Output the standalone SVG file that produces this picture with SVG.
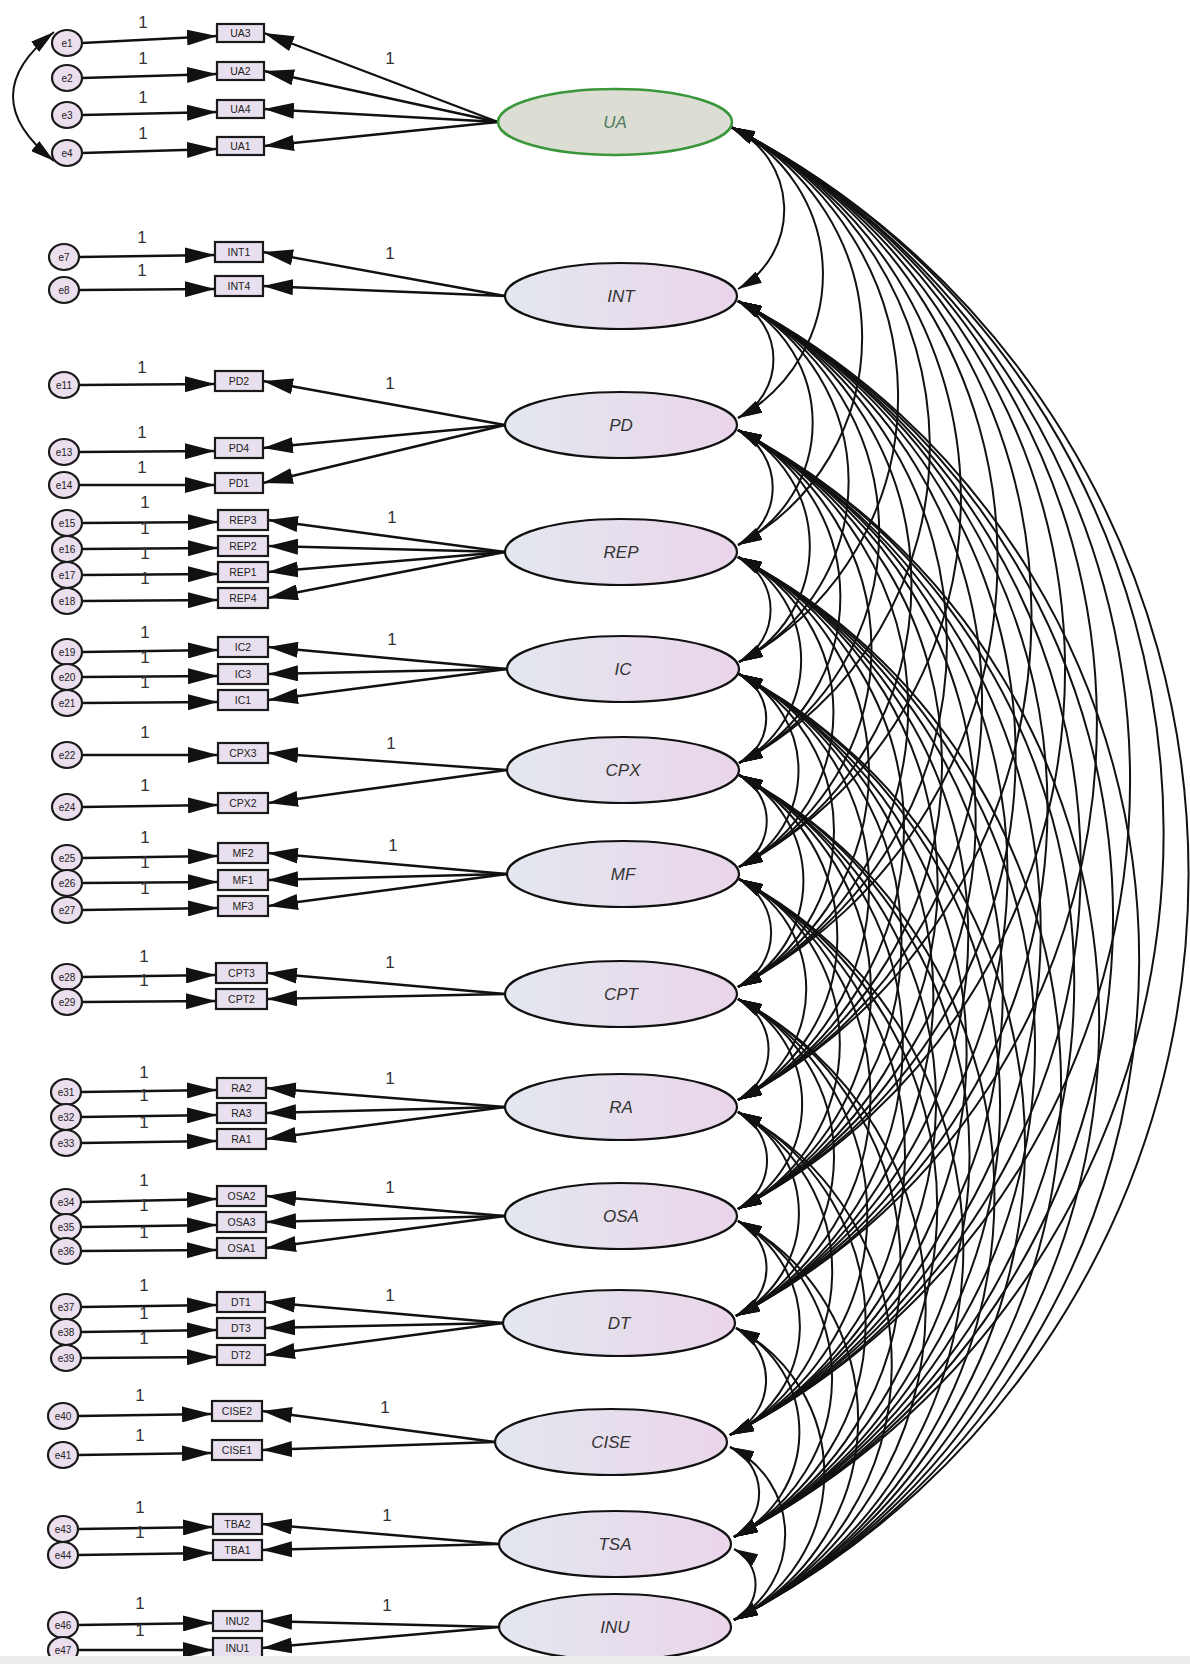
<svg xmlns="http://www.w3.org/2000/svg" width="1190" height="1664" viewBox="0 0 1190 1664">
<defs>
<linearGradient id="lg" x1="0" y1="0" x2="1" y2="0"><stop offset="0" stop-color="#e3e7ef"/><stop offset="1" stop-color="#ead5ea"/></linearGradient>
<marker id="ah" markerUnits="userSpaceOnUse" markerWidth="30" markerHeight="16" viewBox="0 0 30 16" refX="30" refY="8" orient="auto"><path d="M0,0 L30,8 L0,16 z" fill="#111"/></marker>
<marker id="ch" markerUnits="userSpaceOnUse" markerWidth="24" markerHeight="13" viewBox="0 0 24 13" refX="24" refY="6.5" orient="auto-start-reverse"><path d="M0,0 L24,6.5 L0,13 z" fill="#111"/></marker>
<style>
.lat{stroke:#111;stroke-width:2.2;fill:url(#lg)}
.box{fill:#e9e0ef;stroke:#1a1a1a;stroke-width:2.2}
.err{fill:#ebdfee;stroke:#1a1a1a;stroke-width:2.2}
.t{font-family:"Liberation Sans",Arial,sans-serif;text-anchor:middle;dominant-baseline:central}
.lt{font-size:17px;font-style:italic;fill:#333}
.bt{font-size:10.5px;fill:#222}
.et{font-size:10px;fill:#222}
.one{font-size:17px;fill:#333}
.ln{stroke:#111;stroke-width:2.4;fill:none;marker-end:url(#ah)}
.cv{stroke:#111;stroke-width:2;fill:none;marker-start:url(#ch);marker-end:url(#ch)}
</style>
</defs>
<rect width="1190" height="1664" fill="#ffffff"/>

<g id="connectors">
<path class="ln" d="M82,43 L217,36"/>
<path class="ln" d="M82,78 L217,74"/>
<path class="ln" d="M82,115 L217,112"/>
<path class="ln" d="M82,153 L217,149"/>
<path class="ln" d="M79,257 L215,255"/>
<path class="ln" d="M79,290 L215,289"/>
<path class="ln" d="M79,385 L215,384"/>
<path class="ln" d="M79,452 L215,451"/>
<path class="ln" d="M79,485 L215,485"/>
<path class="ln" d="M82,523 L218,522"/>
<path class="ln" d="M82,549 L218,548"/>
<path class="ln" d="M82,575 L218,574"/>
<path class="ln" d="M82,601 L218,600"/>
<path class="ln" d="M82,652 L218,650"/>
<path class="ln" d="M82,677 L218,676"/>
<path class="ln" d="M82,703 L218,702"/>
<path class="ln" d="M82,755 L218,755"/>
<path class="ln" d="M82,807 L218,805"/>
<path class="ln" d="M82,858 L218,856"/>
<path class="ln" d="M82,883 L218,882"/>
<path class="ln" d="M82,910 L218,908"/>
<path class="ln" d="M82,977 L216,975"/>
<path class="ln" d="M82,1002 L216,1001"/>
<path class="ln" d="M81,1092 L217,1090"/>
<path class="ln" d="M81,1117 L217,1115"/>
<path class="ln" d="M81,1143 L217,1141"/>
<path class="ln" d="M81,1202 L217,1199"/>
<path class="ln" d="M81,1227 L217,1225"/>
<path class="ln" d="M81,1251 L217,1250"/>
<path class="ln" d="M81,1307 L217,1305"/>
<path class="ln" d="M81,1332 L217,1330"/>
<path class="ln" d="M81,1358 L217,1357"/>
<path class="ln" d="M78,1416 L212,1414"/>
<path class="ln" d="M78,1455 L212,1453"/>
<path class="ln" d="M78,1529 L213,1527"/>
<path class="ln" d="M78,1555 L213,1553"/>
<path class="ln" d="M78,1625 L213,1623"/>
<path class="ln" d="M78,1650 L213,1650"/>
<path class="ln" d="M498,122 L264,33"/>
<path class="ln" d="M498,122 L264,71"/>
<path class="ln" d="M498,122 L264,109"/>
<path class="ln" d="M498,122 L264,146"/>
<path class="ln" d="M505,296 L263,252"/>
<path class="ln" d="M505,296 L263,286"/>
<path class="ln" d="M505,425 L263,381"/>
<path class="ln" d="M505,425 L263,448"/>
<path class="ln" d="M505,425 L263,483"/>
<path class="ln" d="M505,552 L268,520"/>
<path class="ln" d="M505,552 L268,546"/>
<path class="ln" d="M505,552 L268,572"/>
<path class="ln" d="M505,552 L268,598"/>
<path class="ln" d="M507,669 L268,647"/>
<path class="ln" d="M507,669 L268,674"/>
<path class="ln" d="M507,669 L268,700"/>
<path class="ln" d="M507,770 L268,753"/>
<path class="ln" d="M507,770 L268,803"/>
<path class="ln" d="M507,874 L268,853"/>
<path class="ln" d="M507,874 L268,880"/>
<path class="ln" d="M507,874 L268,906"/>
<path class="ln" d="M505,994 L267,973"/>
<path class="ln" d="M505,994 L267,999"/>
<path class="ln" d="M505,1107 L266,1088"/>
<path class="ln" d="M505,1107 L266,1113"/>
<path class="ln" d="M505,1107 L266,1139"/>
<path class="ln" d="M505,1216 L266,1196"/>
<path class="ln" d="M505,1216 L266,1222"/>
<path class="ln" d="M505,1216 L266,1248"/>
<path class="ln" d="M503,1323 L265,1302"/>
<path class="ln" d="M503,1323 L265,1328"/>
<path class="ln" d="M503,1323 L265,1355"/>
<path class="ln" d="M495,1442 L262,1411"/>
<path class="ln" d="M495,1442 L262,1450"/>
<path class="ln" d="M499,1544 L262,1524"/>
<path class="ln" d="M499,1544 L262,1550"/>
<path class="ln" d="M499,1627 L262,1621"/>
<path class="ln" d="M499,1627 L262,1648"/>
<path class="cv" d="M54,32 Q-28,96 54,161" stroke-width="2.2"/>
<path class="cv" d="M731,127 A91,91 0 0 1 738,289"/>
<path class="cv" d="M731,127 A164,164 0 0 1 738,418"/>
<path class="cv" d="M731,127 A235,235 0 0 1 738,545"/>
<path class="cv" d="M731,127 A301,301 0 0 1 739,662"/>
<path class="cv" d="M731,127 A357,357 0 0 1 739,763"/>
<path class="cv" d="M731,127 A416,416 0 0 1 739,867"/>
<path class="cv" d="M731,127 A483,483 0 0 1 738,987"/>
<path class="cv" d="M731,127 A547,547 0 0 1 738,1100"/>
<path class="cv" d="M731,127 A608,608 0 0 1 738,1209"/>
<path class="cv" d="M731,127 A668,668 0 0 1 736,1316"/>
<path class="cv" d="M731,127 A735,735 0 0 1 730,1435"/>
<path class="cv" d="M731,127 A792,792 0 0 1 734,1537"/>
<path class="cv" d="M731,127 A839,839 0 0 1 734,1620"/>
<path class="cv" d="M738,301 A66,66 0 0 1 738,418"/>
<path class="cv" d="M738,301 A137,137 0 0 1 738,545"/>
<path class="cv" d="M738,301 A203,203 0 0 1 739,662"/>
<path class="cv" d="M738,301 A260,260 0 0 1 739,763"/>
<path class="cv" d="M738,301 A318,318 0 0 1 739,867"/>
<path class="cv" d="M738,301 A386,386 0 0 1 738,987"/>
<path class="cv" d="M738,301 A449,449 0 0 1 738,1100"/>
<path class="cv" d="M738,301 A510,510 0 0 1 738,1209"/>
<path class="cv" d="M738,301 A570,570 0 0 1 736,1316"/>
<path class="cv" d="M738,301 A637,637 0 0 1 730,1435"/>
<path class="cv" d="M738,301 A695,695 0 0 1 734,1537"/>
<path class="cv" d="M738,301 A741,741 0 0 1 734,1620"/>
<path class="cv" d="M738,430 A65,65 0 0 1 738,545"/>
<path class="cv" d="M738,430 A130,130 0 0 1 739,662"/>
<path class="cv" d="M738,430 A187,187 0 0 1 739,763"/>
<path class="cv" d="M738,430 A246,246 0 0 1 739,867"/>
<path class="cv" d="M738,430 A313,313 0 0 1 738,987"/>
<path class="cv" d="M738,430 A377,377 0 0 1 738,1100"/>
<path class="cv" d="M738,430 A438,438 0 0 1 738,1209"/>
<path class="cv" d="M738,430 A498,498 0 0 1 736,1316"/>
<path class="cv" d="M738,430 A565,565 0 0 1 730,1435"/>
<path class="cv" d="M738,430 A622,622 0 0 1 734,1537"/>
<path class="cv" d="M738,430 A669,669 0 0 1 734,1620"/>
<path class="cv" d="M738,557 A59,59 0 0 1 739,662"/>
<path class="cv" d="M738,557 A116,116 0 0 1 739,763"/>
<path class="cv" d="M738,557 A174,174 0 0 1 739,867"/>
<path class="cv" d="M738,557 A242,242 0 0 1 738,987"/>
<path class="cv" d="M738,557 A305,305 0 0 1 738,1100"/>
<path class="cv" d="M738,557 A366,366 0 0 1 738,1209"/>
<path class="cv" d="M738,557 A427,427 0 0 1 736,1316"/>
<path class="cv" d="M738,557 A493,493 0 0 1 730,1435"/>
<path class="cv" d="M738,557 A551,551 0 0 1 734,1537"/>
<path class="cv" d="M738,557 A597,597 0 0 1 734,1620"/>
<path class="cv" d="M739,674 A50,50 0 0 1 739,763"/>
<path class="cv" d="M739,674 A108,108 0 0 1 739,867"/>
<path class="cv" d="M739,674 A176,176 0 0 1 738,987"/>
<path class="cv" d="M739,674 A239,239 0 0 1 738,1100"/>
<path class="cv" d="M739,674 A301,301 0 0 1 738,1209"/>
<path class="cv" d="M739,674 A361,361 0 0 1 736,1316"/>
<path class="cv" d="M739,674 A428,428 0 0 1 730,1435"/>
<path class="cv" d="M739,674 A485,485 0 0 1 734,1537"/>
<path class="cv" d="M739,674 A532,532 0 0 1 734,1620"/>
<path class="cv" d="M739,775 A52,52 0 0 1 739,867"/>
<path class="cv" d="M739,775 A119,119 0 0 1 738,987"/>
<path class="cv" d="M739,775 A183,183 0 0 1 738,1100"/>
<path class="cv" d="M739,775 A244,244 0 0 1 738,1209"/>
<path class="cv" d="M739,775 A304,304 0 0 1 736,1316"/>
<path class="cv" d="M739,775 A371,371 0 0 1 730,1435"/>
<path class="cv" d="M739,775 A428,428 0 0 1 734,1537"/>
<path class="cv" d="M739,775 A475,475 0 0 1 734,1620"/>
<path class="cv" d="M739,879 A61,61 0 0 1 738,987"/>
<path class="cv" d="M739,879 A124,124 0 0 1 738,1100"/>
<path class="cv" d="M739,879 A185,185 0 0 1 738,1209"/>
<path class="cv" d="M739,879 A246,246 0 0 1 736,1316"/>
<path class="cv" d="M739,879 A312,312 0 0 1 730,1435"/>
<path class="cv" d="M739,879 A370,370 0 0 1 734,1537"/>
<path class="cv" d="M739,879 A416,416 0 0 1 734,1620"/>
<path class="cv" d="M738,999 A57,57 0 0 1 738,1100"/>
<path class="cv" d="M738,999 A118,118 0 0 1 738,1209"/>
<path class="cv" d="M738,999 A178,178 0 0 1 736,1316"/>
<path class="cv" d="M738,999 A245,245 0 0 1 730,1435"/>
<path class="cv" d="M738,999 A302,302 0 0 1 734,1537"/>
<path class="cv" d="M738,999 A349,349 0 0 1 734,1620"/>
<path class="cv" d="M738,1112 A55,55 0 0 1 738,1209"/>
<path class="cv" d="M738,1112 A115,115 0 0 1 736,1316"/>
<path class="cv" d="M738,1112 A182,182 0 0 1 730,1435"/>
<path class="cv" d="M738,1112 A239,239 0 0 1 734,1537"/>
<path class="cv" d="M738,1112 A285,285 0 0 1 734,1620"/>
<path class="cv" d="M738,1221 A53,53 0 0 1 736,1316"/>
<path class="cv" d="M738,1221 A120,120 0 0 1 730,1435"/>
<path class="cv" d="M738,1221 A178,178 0 0 1 734,1537"/>
<path class="cv" d="M738,1221 A224,224 0 0 1 734,1620"/>
<path class="cv" d="M736,1328 A60,60 0 0 1 730,1435"/>
<path class="cv" d="M736,1328 A117,117 0 0 1 734,1537"/>
<path class="cv" d="M736,1328 A164,164 0 0 1 734,1620"/>
<path class="cv" d="M730,1447 A51,51 0 0 1 734,1537"/>
<path class="cv" d="M730,1447 A97,97 0 0 1 734,1620"/>
<path class="cv" d="M734,1549 A40,40 0 0 1 734,1620"/>
</g>

<g id="labels" class="t one">
<text x="143" y="22">1</text><text x="143" y="58">1</text><text x="143" y="97">1</text><text x="143" y="133">1</text><text x="390" y="58">1</text>
<text x="142" y="237">1</text><text x="142" y="270">1</text><text x="390" y="253">1</text>
<text x="142" y="367">1</text><text x="142" y="432">1</text><text x="142" y="467">1</text><text x="390" y="383">1</text>
<text x="145" y="502">1</text><text x="145" y="528">1</text><text x="145" y="553">1</text><text x="145" y="578">1</text><text x="392" y="517">1</text>
<text x="145" y="632">1</text><text x="145" y="657">1</text><text x="145" y="682">1</text><text x="392" y="639">1</text>
<text x="145" y="732">1</text><text x="145" y="785">1</text><text x="391" y="743">1</text>
<text x="145" y="837">1</text><text x="145" y="862">1</text><text x="145" y="888">1</text><text x="393" y="845">1</text>
<text x="144" y="956">1</text><text x="144" y="980">1</text><text x="390" y="962">1</text>
<text x="144" y="1072">1</text><text x="144" y="1095">1</text><text x="144" y="1122">1</text><text x="390" y="1078">1</text>
<text x="144" y="1180">1</text><text x="144" y="1205">1</text><text x="144" y="1232">1</text><text x="390" y="1187">1</text>
<text x="144" y="1285">1</text><text x="144" y="1313">1</text><text x="144" y="1338">1</text><text x="390" y="1295">1</text>
<text x="140" y="1395">1</text><text x="140" y="1435">1</text><text x="385" y="1407">1</text>
<text x="140" y="1507">1</text><text x="140" y="1532">1</text><text x="387" y="1515">1</text>
<text x="140" y="1603">1</text><text x="140" y="1630">1</text><text x="387" y="1605">1</text>
</g>

<g id="UA"><ellipse cx="615" cy="122" rx="117" ry="33" fill="#dcded3" stroke="#3a963a" stroke-width="2.6"/><text class="t lt" x="615" y="122" style="fill:#4f7a60">UA</text></g>
<g id="INT"><ellipse class="lat" cx="621" cy="296" rx="116" ry="33"/><text class="t lt" x="621" y="296">INT</text></g>
<g id="PD"><ellipse class="lat" cx="621" cy="425" rx="116" ry="33"/><text class="t lt" x="621" y="425">PD</text></g>
<g id="REP"><ellipse class="lat" cx="621" cy="552" rx="116" ry="33"/><text class="t lt" x="621" y="552">REP</text></g>
<g id="IC"><ellipse class="lat" cx="623" cy="669" rx="116" ry="33"/><text class="t lt" x="623" y="669">IC</text></g>
<g id="CPX"><ellipse class="lat" cx="623" cy="770" rx="116" ry="33"/><text class="t lt" x="623" y="770">CPX</text></g>
<g id="MF"><ellipse class="lat" cx="623" cy="874" rx="116" ry="33"/><text class="t lt" x="623" y="874">MF</text></g>
<g id="CPT"><ellipse class="lat" cx="621" cy="994" rx="116" ry="33"/><text class="t lt" x="621" y="994">CPT</text></g>
<g id="RA"><ellipse class="lat" cx="621" cy="1107" rx="116" ry="33"/><text class="t lt" x="621" y="1107">RA</text></g>
<g id="OSA"><ellipse class="lat" cx="621" cy="1216" rx="116" ry="33"/><text class="t lt" x="621" y="1216">OSA</text></g>
<g id="DT"><ellipse class="lat" cx="619" cy="1323" rx="116" ry="33"/><text class="t lt" x="619" y="1323">DT</text></g>
<g id="CISE"><ellipse class="lat" cx="611" cy="1442" rx="116" ry="33"/><text class="t lt" x="611" y="1442">CISE</text></g>
<g id="TSA"><ellipse class="lat" cx="615" cy="1544" rx="116" ry="33"/><text class="t lt" x="615" y="1544">TSA</text></g>
<g id="INU"><ellipse class="lat" cx="615" cy="1627" rx="116" ry="33"/><text class="t lt" x="615" y="1627">INU</text></g>

<g id="UA3"><rect class="box" x="217" y="24" width="47" height="18"/><text class="t bt" x="240.5" y="33">UA3</text></g>
<g id="UA2"><rect class="box" x="217" y="62" width="47" height="18"/><text class="t bt" x="240.5" y="71">UA2</text></g>
<g id="UA4"><rect class="box" x="217" y="100" width="47" height="18"/><text class="t bt" x="240.5" y="109">UA4</text></g>
<g id="UA1"><rect class="box" x="217" y="137" width="47" height="18"/><text class="t bt" x="240.5" y="146">UA1</text></g>
<g id="INT1"><rect class="box" x="215" y="242" width="48" height="20"/><text class="t bt" x="239" y="252">INT1</text></g>
<g id="INT4"><rect class="box" x="215" y="276" width="48" height="20"/><text class="t bt" x="239" y="286">INT4</text></g>
<g id="PD2"><rect class="box" x="215" y="371" width="48" height="20"/><text class="t bt" x="239" y="381">PD2</text></g>
<g id="PD4"><rect class="box" x="215" y="438" width="48" height="20"/><text class="t bt" x="239" y="448">PD4</text></g>
<g id="PD1"><rect class="box" x="215" y="473" width="48" height="20"/><text class="t bt" x="239" y="483">PD1</text></g>
<g id="REP3"><rect class="box" x="218" y="510" width="50" height="20"/><text class="t bt" x="243" y="520">REP3</text></g>
<g id="REP2"><rect class="box" x="218" y="536" width="50" height="20"/><text class="t bt" x="243" y="546">REP2</text></g>
<g id="REP1"><rect class="box" x="218" y="562" width="50" height="20"/><text class="t bt" x="243" y="572">REP1</text></g>
<g id="REP4"><rect class="box" x="218" y="588" width="50" height="20"/><text class="t bt" x="243" y="598">REP4</text></g>
<g id="IC2"><rect class="box" x="218" y="637" width="50" height="20"/><text class="t bt" x="243" y="647">IC2</text></g>
<g id="IC3"><rect class="box" x="218" y="664" width="50" height="20"/><text class="t bt" x="243" y="674">IC3</text></g>
<g id="IC1"><rect class="box" x="218" y="690" width="50" height="20"/><text class="t bt" x="243" y="700">IC1</text></g>
<g id="CPX3"><rect class="box" x="218" y="743" width="50" height="20"/><text class="t bt" x="243" y="753">CPX3</text></g>
<g id="CPX2"><rect class="box" x="218" y="793" width="50" height="20"/><text class="t bt" x="243" y="803">CPX2</text></g>
<g id="MF2"><rect class="box" x="218" y="843" width="50" height="20"/><text class="t bt" x="243" y="853">MF2</text></g>
<g id="MF1"><rect class="box" x="218" y="870" width="50" height="20"/><text class="t bt" x="243" y="880">MF1</text></g>
<g id="MF3"><rect class="box" x="218" y="896" width="50" height="20"/><text class="t bt" x="243" y="906">MF3</text></g>
<g id="CPT3"><rect class="box" x="216" y="963" width="51" height="20"/><text class="t bt" x="241.5" y="973">CPT3</text></g>
<g id="CPT2"><rect class="box" x="216" y="989" width="51" height="20"/><text class="t bt" x="241.5" y="999">CPT2</text></g>
<g id="RA2"><rect class="box" x="217" y="1078" width="49" height="20"/><text class="t bt" x="241.5" y="1088">RA2</text></g>
<g id="RA3"><rect class="box" x="217" y="1103" width="49" height="20"/><text class="t bt" x="241.5" y="1113">RA3</text></g>
<g id="RA1"><rect class="box" x="217" y="1129" width="49" height="20"/><text class="t bt" x="241.5" y="1139">RA1</text></g>
<g id="OSA2"><rect class="box" x="217" y="1186" width="49" height="20"/><text class="t bt" x="241.5" y="1196">OSA2</text></g>
<g id="OSA3"><rect class="box" x="217" y="1212" width="49" height="20"/><text class="t bt" x="241.5" y="1222">OSA3</text></g>
<g id="OSA1"><rect class="box" x="217" y="1238" width="49" height="20"/><text class="t bt" x="241.5" y="1248">OSA1</text></g>
<g id="DT1"><rect class="box" x="217" y="1292" width="48" height="20"/><text class="t bt" x="241" y="1302">DT1</text></g>
<g id="DT3"><rect class="box" x="217" y="1318" width="48" height="20"/><text class="t bt" x="241" y="1328">DT3</text></g>
<g id="DT2"><rect class="box" x="217" y="1345" width="48" height="20"/><text class="t bt" x="241" y="1355">DT2</text></g>
<g id="CISE2"><rect class="box" x="212" y="1401" width="50" height="20"/><text class="t bt" x="237" y="1411">CISE2</text></g>
<g id="CISE1"><rect class="box" x="212" y="1440" width="50" height="20"/><text class="t bt" x="237" y="1450">CISE1</text></g>
<g id="TBA2"><rect class="box" x="213" y="1514" width="49" height="20"/><text class="t bt" x="237.5" y="1524">TBA2</text></g>
<g id="TBA1"><rect class="box" x="213" y="1540" width="49" height="20"/><text class="t bt" x="237.5" y="1550">TBA1</text></g>
<g id="INU2"><rect class="box" x="213" y="1611" width="49" height="20"/><text class="t bt" x="237.5" y="1621">INU2</text></g>
<g id="INU1"><rect class="box" x="213" y="1638" width="49" height="20"/><text class="t bt" x="237.5" y="1648">INU1</text></g>

<g id="e1"><ellipse class="err" cx="67" cy="43" rx="15" ry="13"/><text class="t et" x="67" y="43">e1</text></g>
<g id="e2"><ellipse class="err" cx="67" cy="78" rx="15" ry="13"/><text class="t et" x="67" y="78">e2</text></g>
<g id="e3"><ellipse class="err" cx="67" cy="115" rx="15" ry="13"/><text class="t et" x="67" y="115">e3</text></g>
<g id="e4"><ellipse class="err" cx="67" cy="153" rx="15" ry="13"/><text class="t et" x="67" y="153">e4</text></g>
<g id="e7"><ellipse class="err" cx="64" cy="257" rx="15" ry="13"/><text class="t et" x="64" y="257">e7</text></g>
<g id="e8"><ellipse class="err" cx="64" cy="290" rx="15" ry="13"/><text class="t et" x="64" y="290">e8</text></g>
<g id="e11"><ellipse class="err" cx="64" cy="385" rx="15" ry="13"/><text class="t et" x="64" y="385">e11</text></g>
<g id="e13"><ellipse class="err" cx="64" cy="452" rx="15" ry="13"/><text class="t et" x="64" y="452">e13</text></g>
<g id="e14"><ellipse class="err" cx="64" cy="485" rx="15" ry="13"/><text class="t et" x="64" y="485">e14</text></g>
<g id="e15"><ellipse class="err" cx="67" cy="523" rx="15" ry="13"/><text class="t et" x="67" y="523">e15</text></g>
<g id="e16"><ellipse class="err" cx="67" cy="549" rx="15" ry="13"/><text class="t et" x="67" y="549">e16</text></g>
<g id="e17"><ellipse class="err" cx="67" cy="575" rx="15" ry="13"/><text class="t et" x="67" y="575">e17</text></g>
<g id="e18"><ellipse class="err" cx="67" cy="601" rx="15" ry="13"/><text class="t et" x="67" y="601">e18</text></g>
<g id="e19"><ellipse class="err" cx="67" cy="652" rx="15" ry="13"/><text class="t et" x="67" y="652">e19</text></g>
<g id="e20"><ellipse class="err" cx="67" cy="677" rx="15" ry="13"/><text class="t et" x="67" y="677">e20</text></g>
<g id="e21"><ellipse class="err" cx="67" cy="703" rx="15" ry="13"/><text class="t et" x="67" y="703">e21</text></g>
<g id="e22"><ellipse class="err" cx="67" cy="755" rx="15" ry="13"/><text class="t et" x="67" y="755">e22</text></g>
<g id="e24"><ellipse class="err" cx="67" cy="807" rx="15" ry="13"/><text class="t et" x="67" y="807">e24</text></g>
<g id="e25"><ellipse class="err" cx="67" cy="858" rx="15" ry="13"/><text class="t et" x="67" y="858">e25</text></g>
<g id="e26"><ellipse class="err" cx="67" cy="883" rx="15" ry="13"/><text class="t et" x="67" y="883">e26</text></g>
<g id="e27"><ellipse class="err" cx="67" cy="910" rx="15" ry="13"/><text class="t et" x="67" y="910">e27</text></g>
<g id="e28"><ellipse class="err" cx="67" cy="977" rx="15" ry="13"/><text class="t et" x="67" y="977">e28</text></g>
<g id="e29"><ellipse class="err" cx="67" cy="1002" rx="15" ry="13"/><text class="t et" x="67" y="1002">e29</text></g>
<g id="e31"><ellipse class="err" cx="66" cy="1092" rx="15" ry="13"/><text class="t et" x="66" y="1092">e31</text></g>
<g id="e32"><ellipse class="err" cx="66" cy="1117" rx="15" ry="13"/><text class="t et" x="66" y="1117">e32</text></g>
<g id="e33"><ellipse class="err" cx="66" cy="1143" rx="15" ry="13"/><text class="t et" x="66" y="1143">e33</text></g>
<g id="e34"><ellipse class="err" cx="66" cy="1202" rx="15" ry="13"/><text class="t et" x="66" y="1202">e34</text></g>
<g id="e35"><ellipse class="err" cx="66" cy="1227" rx="15" ry="13"/><text class="t et" x="66" y="1227">e35</text></g>
<g id="e36"><ellipse class="err" cx="66" cy="1251" rx="15" ry="13"/><text class="t et" x="66" y="1251">e36</text></g>
<g id="e37"><ellipse class="err" cx="66" cy="1307" rx="15" ry="13"/><text class="t et" x="66" y="1307">e37</text></g>
<g id="e38"><ellipse class="err" cx="66" cy="1332" rx="15" ry="13"/><text class="t et" x="66" y="1332">e38</text></g>
<g id="e39"><ellipse class="err" cx="66" cy="1358" rx="15" ry="13"/><text class="t et" x="66" y="1358">e39</text></g>
<g id="e40"><ellipse class="err" cx="63" cy="1416" rx="15" ry="13"/><text class="t et" x="63" y="1416">e40</text></g>
<g id="e41"><ellipse class="err" cx="63" cy="1455" rx="15" ry="13"/><text class="t et" x="63" y="1455">e41</text></g>
<g id="e43"><ellipse class="err" cx="63" cy="1529" rx="15" ry="13"/><text class="t et" x="63" y="1529">e43</text></g>
<g id="e44"><ellipse class="err" cx="63" cy="1555" rx="15" ry="13"/><text class="t et" x="63" y="1555">e44</text></g>
<g id="e46"><ellipse class="err" cx="63" cy="1625" rx="15" ry="13"/><text class="t et" x="63" y="1625">e46</text></g>
<g id="e47"><ellipse class="err" cx="63" cy="1650" rx="15" ry="13"/><text class="t et" x="63" y="1650">e47</text></g>

<rect x="0" y="1656" width="1190" height="8" fill="#ececec"/>
</svg>
